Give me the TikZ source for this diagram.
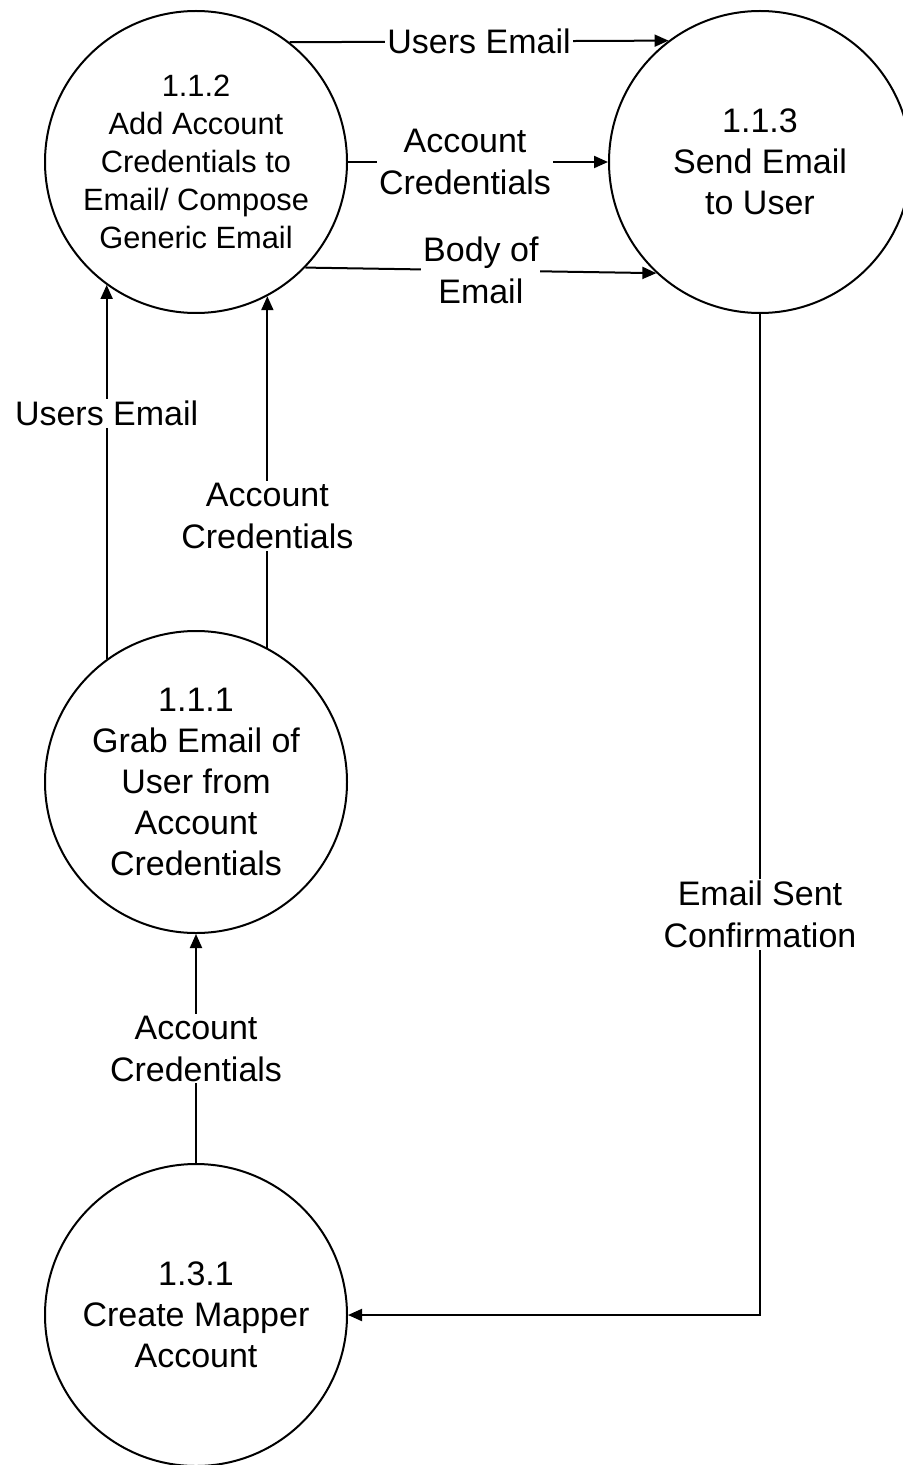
\documentclass[tikz,border=0pt]{standalone}
\usepackage{fontspec}
\setmainfont{Liberation Sans}
\usetikzlibrary{arrows.meta}

\begin{document}
\begin{tikzpicture}[x=0.5pt, y=-0.5pt, >={Triangle[length=7pt,width=6pt]},
    process/.style={draw, circle, line width=1pt, minimum size=151pt, inner sep=0pt,
        align=center, font=\fontsize{17}{20.5}\selectfont},
    flow/.style={->, line width=1pt},
    flowlabel/.style={fill=white, inner sep=1pt, align=center,
        font=\fontsize{17}{21}\selectfont}]
    \useasboundingbox (0,0) rectangle (902,1465);

    \node [process, font=\fontsize{15.4}{19}\selectfont] (p112) at (196,162)
        {1.1.2\\Add Account\\Credentials to\\Email/ Compose\\Generic Email};
    \node [process] (p113) at (760,162) {1.1.3\\Send Email\\to User};
    \node [process] (p111) at (196,782)
        {1.1.1\\Grab Email of\\User from\\Account\\Credentials};
    \node [process] (p131) at (196,1315) {1.3.1\\Create Mapper\\Account};

    \draw [flow] (p112.52.6) -- node [flowlabel] {Users Email} (p113.127.4);
    \draw [flow] (p112.east) -- node [flowlabel, pos=.45] {Account\\Credentials} (p113.west);
    \draw [flow] (p112.-44) -- node [flowlabel] {Body of\\Email} (p113.-133);
    \draw [flow] (p111.126.6) -- node [flowlabel, pos=.656] {Users Email} (p112.-126.6);
    \draw [flow] (p111.62.8) -- node [flowlabel, pos=.375] {Account\\Credentials} (p112.-62.8);
    \draw [flow] (p131.north) -- node [flowlabel] {Account\\Credentials} (p111.south);
    \draw [flow] (p113.south) |- node [flowlabel, pos=.3] {Email Sent\\Confirmation} (p131.east);
\end{tikzpicture}
\end{document}
